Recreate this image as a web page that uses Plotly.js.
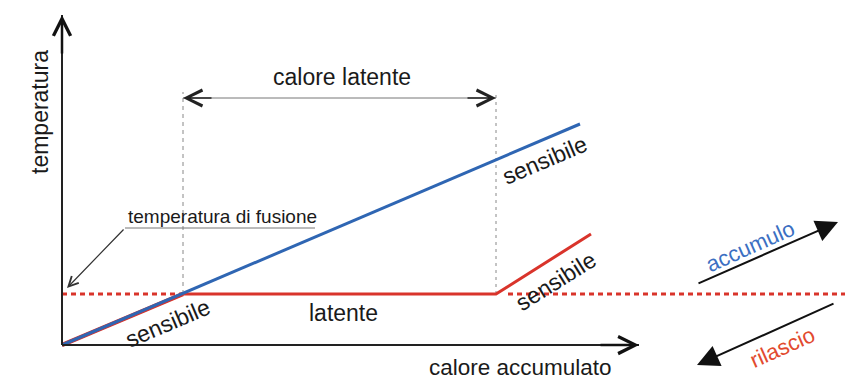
<!DOCTYPE html>
<html>
<head>
<meta charset="utf-8">
<script src="https://cdn.plot.ly/plotly-3.0.1.min.js"></script>
<style>html,body{margin:0;padding:0;background:#fff;}#chart{width:850px;height:380px;}</style>
</head>
<body>
<div id="chart"></div>
<script>
// Data units: x = heat stored, y = temperature (origin at axes corner)
const fusionT = 51;
const latentStart = 121;
const latentEnd = 434;

const blueX = [0, 518];
const blueY = [0, 221];

const redX = [0, latentStart, latentEnd, 529];
const redY = [0, fusionT, fusionT, 111];

const fusionLeftX = [0, latentStart];
const fusionRightX = [446, 783];

const guideTop = 253;
const latentArrowY = 247;

const xAxisEnd = 577;
const yAxisEnd = 330;

const labels = {
  yTitle: "temperatura",
  xTitle: "calore accumulato",
  latentHeat: "calore latente",
  fusion: "temperatura di fusione",
  sensible: "sensibile",
  latent: "latente",
  charge: "accumulo",
  discharge: "rilascio"
};

const BLUE = "#2f66b3";
const RED = "#d9342b";
const FONT = "Liberation Sans, Arial, sans-serif";

const traces = [
  {x: fusionLeftX, y: [fusionT, fusionT], mode: "lines", line: {color: RED, width: 3, dash: "5px,4px"}},
  {x: fusionRightX, y: [fusionT, fusionT], mode: "lines", line: {color: RED, width: 3, dash: "5px,4px"}},
  {x: [latentStart, latentStart], y: [fusionT, guideTop], mode: "lines", line: {color: "#888", width: 1, dash: "4px,4px"}},
  {x: [latentEnd, latentEnd], y: [fusionT, guideTop], mode: "lines", line: {color: "#888", width: 1, dash: "3px,4px"}},
  {x: [latentStart, latentEnd], y: [latentArrowY, latentArrowY], mode: "lines", line: {color: "#777", width: 1}},
  {x: redX.slice(0, 2), y: redY.slice(0, 2), mode: "lines", line: {color: RED, width: 4.5}},
  {x: redX, y: redY, mode: "lines", line: {color: RED, width: 3}},
  {x: blueX, y: blueY, mode: "lines", line: {color: BLUE, width: 3}},
  {x: [0, xAxisEnd], y: [0, 0], mode: "lines", line: {color: "#222", width: 2}},
  {x: [0, 0], y: [0, yAxisEnd], mode: "lines", line: {color: "#222", width: 2}},
  {x: [253, 63], y: [117, 117], mode: "lines", line: {color: "#777", width: 1}}
];

function txt(x, y, text, size, angle, color) {
  return {x: x, y: y, xref: "x", yref: "y", text: text, showarrow: false,
    textangle: angle || 0, font: {family: FONT, size: size, color: color || "#1a1a1a"}};
}
function arr(x, y, ax, ay, head, size, width, color) {
  return {x: x, y: y, ax: ax, ay: ay, xref: "x", yref: "y", axref: "x", ayref: "y",
    text: "", showarrow: true, arrowhead: head, arrowsize: size, arrowwidth: width,
    arrowcolor: color || "#111"};
}

const annotations = [
  txt(280, 268, labels.latentHeat, 23),
  txt(-22, 233, labels.yTitle, 23, -90),
  txt(160, 129, labels.fusion, 19),
  txt(106, 22, labels.sensible, 23, -23),
  txt(483, 185, labels.sensible, 23, -23),
  txt(494, 64, labels.sensible, 23, -32),
  txt(281, 32, labels.latent, 23),
  txt(458, -22, labels.xTitle, 22.5),
  txt(688, 99, labels.charge, 22, -24, "#3b6fc2"),
  txt(720, -2, labels.discharge, 22, -24, "#e24a2f"),
  // axes arrowheads
  arr(xAxisEnd, 0, xAxisEnd - 40, 0, 5, 1.35, 2.5, "#111"),
  arr(0, yAxisEnd, 0, yAxisEnd - 40, 5, 1.35, 2.5, "#111"),
  // latent heat double arrow heads
  arr(latentEnd, latentArrowY, latentEnd - 30, latentArrowY, 5, 2.1, 1.5, "#222"),
  arr(latentStart, latentArrowY, latentStart + 30, latentArrowY, 5, 2.1, 1.5, "#222"),
  // fusion leader
  arr(5, 57, 63, 117, 5, 1.6, 1.2, "#333"),
  // charge / discharge arrows
  arr(776, 123, 635, 61, 2, 2.2, 2, "#111"),
  arr(635, -20, 773, 42, 2, 2.2, 2, "#111")
];

const layout = {
  width: 850, height: 380,
  margin: {l: 0, r: 0, t: 0, b: 0},
  paper_bgcolor: "#fff", plot_bgcolor: "#fff",
  showlegend: false,
  xaxis: {range: [-62, 788], visible: false, fixedrange: true},
  yaxis: {range: [-35, 345], visible: false, fixedrange: true},
  annotations: annotations
};

Plotly.newPlot("chart", traces, layout, {staticPlot: true});
</script>
</body>
</html>
